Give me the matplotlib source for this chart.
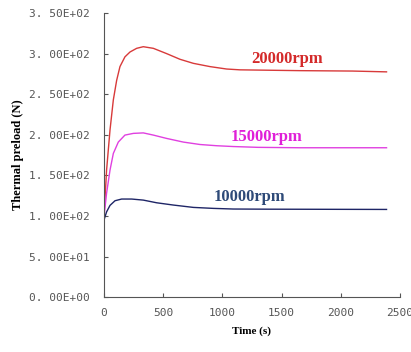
import matplotlib
matplotlib.use("Agg")
import matplotlib.pyplot as plt
from matplotlib.ticker import FuncFormatter

# time (s) and thermal preload (N)
t_20k = [0, 22, 51, 79, 107, 135, 177, 220, 276, 332, 417, 529, 642, 755, 895,
         1036, 1149, 1400, 1655, 2100, 2387]
f_20k = [99, 156.5, 206, 243, 267, 284, 296, 302, 306.5, 308.5, 306.5, 300, 293,
         288, 284, 281, 280, 279.5, 279, 278.5, 277.5]

t_15k = [0, 22, 51, 79, 121, 177, 248, 332, 417, 529, 670, 811, 951, 1092,
         1300, 1655, 2387]
f_15k = [99, 128, 156.5, 177, 191, 199.6, 201.7, 202.3, 199.6, 195.5, 191, 188,
         186.5, 185.5, 184.5, 184, 184]

t_10k = [0, 22, 51, 93, 149, 234, 332, 445, 586, 755, 923, 1092, 1400, 2387]
f_10k = [95, 105, 113, 118.7, 120.8, 120.8, 119.5, 116.2, 113.4, 110.5, 109.3,
         108.5, 108.3, 108]

labels = ["20000rpm", "15000rpm", "10000rpm"]
label_pos = [(1545, 293), (1375, 197), (1233, 123)]
line_colors = ["#d83a3a", "#e040e0", "#1e2566"]
text_colors = ["#d42a2a", "#e020d8", "#2e4a78"]

fig = plt.figure(figsize=(4.11, 3.52), dpi=100)
ax = fig.add_axes([0.253, 0.156, 0.72, 0.807])

for (t, f), c in zip([(t_20k, f_20k), (t_15k, f_15k), (t_10k, f_10k)], line_colors):
    ax.plot(t, f, color=c, lw=1.0)

for lab, (x, y), c in zip(labels, label_pos, text_colors):
    ax.text(x, y, lab, color=c, fontsize=12, fontweight="bold",
            family="Liberation Serif", ha="center", va="center")

ax.set_xlim(0, 2500)
ax.set_ylim(0, 350)
ax.set_xticks([0, 500, 1000, 1500, 2000, 2500])
ax.set_yticks([0, 50, 100, 150, 200, 250, 300, 350])
ax.yaxis.set_major_formatter(FuncFormatter(lambda v, p: f"{v:.2E}".replace(".", ". ")))
for s in ["top", "right"]:
    ax.spines[s].set_visible(False)
for s in ["left", "bottom"]:
    ax.spines[s].set_color("#555555")
ax.tick_params(direction="in", length=3, color="#555555", labelcolor="#555555",
               labelsize=8)
ax.tick_params(axis="y", pad=10)
ax.tick_params(axis="x", pad=8)
for lbl in ax.get_xticklabels() + ax.get_yticklabels():
    lbl.set_family("DejaVu Sans Mono")

ax.set_xlabel("Time (s)", fontsize=8, fontweight="bold", family="Liberation Serif",
              labelpad=6)
ax.set_ylabel("Thermal preload (N)", fontsize=9, fontweight="bold",
              family="Liberation Serif")

fig.savefig("out.png", dpi=100)
